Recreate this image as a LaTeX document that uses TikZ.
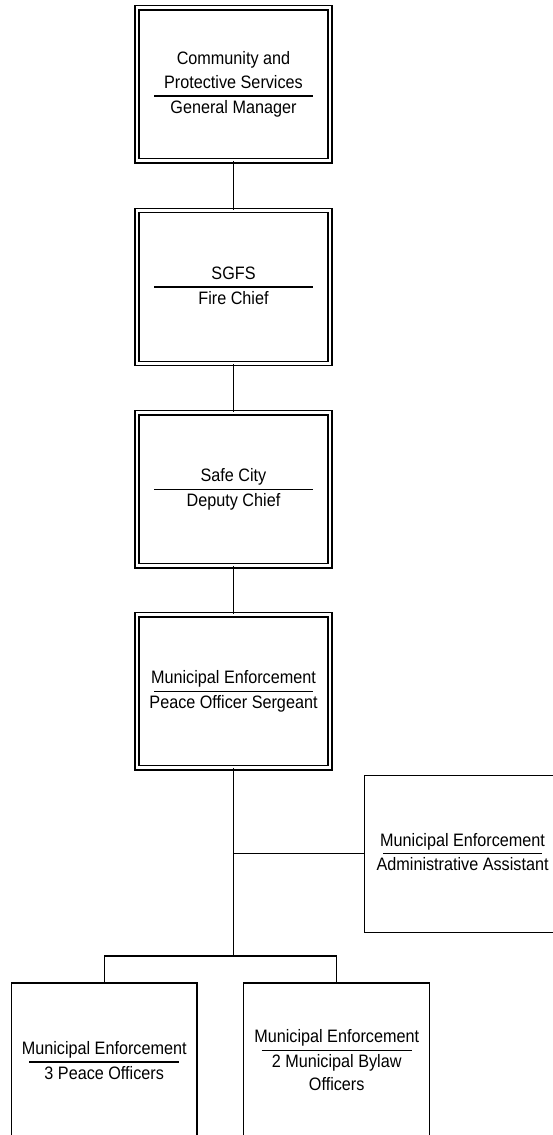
\documentclass[tikz,border=0pt]{standalone}
\usepackage{fontspec}
\setmainfont{Liberation Sans}[FakeStretch=0.9]
% Position title above a fixed-width rule, role below it
\newcommand{\roletext}[3]{%
  \vbox{\offinterlineskip\halign{\hfil##\hfil\cr
    \begin{tabular}{@{}c@{}}#2\end{tabular}\cr
    \rule{#1}{1.3pt}\cr
    \begin{tabular}{@{}c@{}}#3\end{tabular}\cr}}}
\tikzset{
  chief/.style={draw, rectangle, line width=1.3pt, double=white,
    double distance=2.8pt, minimum width=193pt, minimum height=153pt,
    inner sep=0pt},
  staff/.style={draw, rectangle, line width=1.4pt, minimum height=157pt,
    inner sep=0pt},
  link/.style={line width=1.3pt},
  trunk/.style={line width=1.9pt},
  every node/.style={font=\fontsize{18}{23.5}\selectfont}
}
\begin{document}
\begin{tikzpicture}[x=1pt, y=-1pt]
  \useasboundingbox (0,0) rectangle (553,1135);
  \begin{scope}
  \clip (0,0) rectangle (553,1135);

  % chain of command
  \node[chief] (gm) at (233.5,84.3)
    {\roletext{159pt}{Community and\\ Protective Services}{General Manager}};
  \node[chief] (fc) at (233.5,287)
    {\roletext{159pt}{SGFS}{Fire Chief}};
  \node[chief] (dc) at (233.5,489.3)
    {\roletext{159pt}{Safe City}{Deputy Chief}};
  \node[chief] (sg) at (233.5,691.3)
    {\roletext{159pt}{Municipal Enforcement}{Peace Officer Sergeant}};

  % staff reporting to the sergeant
  \node[staff, minimum width=196.5pt] (aa) at (462.6,853.7)
    {\roletext{159pt}{Municipal Enforcement}{Administrative Assistant}};
  \node[staff, minimum width=185.7pt, minimum height=158pt] (po) at (104.2,1062)
    {\roletext{150pt}{Municipal Enforcement}{3 Peace Officers}};
  \node[staff, minimum width=186pt, minimum height=158pt] (bo) at (336.7,1062)
    {\roletext{150pt}{Municipal Enforcement}{2 Municipal Bylaw\\ Officers}};

  \draw[link] (gm) -- (fc);
  \draw[link] (fc) -- (dc);
  \draw[link] (dc) -- (sg);

  \coordinate (split) at (233.5,956);
  \draw[trunk] (sg.south) -- (split);
  \draw[link] (aa.west) -- (aa.west -| sg.south);
  \draw[link] (po.north) |- (split) -| (bo.north);
  \end{scope}
\end{tikzpicture}
\end{document}
